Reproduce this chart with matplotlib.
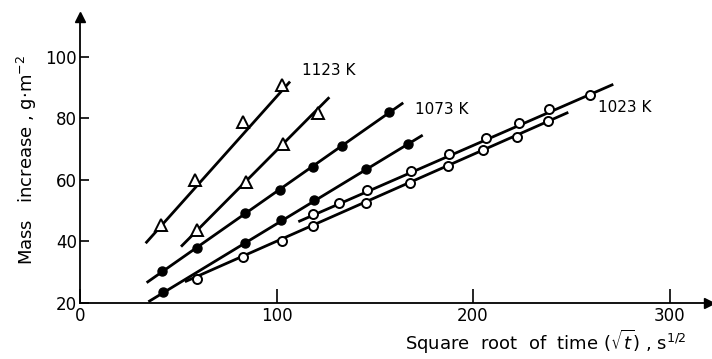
import matplotlib
matplotlib.use("Agg")
import matplotlib.pyplot as plt

# ---- data ----
tri1_x = [41.2, 58.5, 83.0, 102.6]
tri1_y = [45.3, 59.9, 78.9, 90.8]
tri1_line_x = [33.4, 106.9]
tri1_line_y = [39.4, 91.9]

tri2_x = [59.7, 84.5, 103.5, 121.3]
tri2_y = [43.7, 59.4, 71.6, 81.6]
tri2_line_x = [51.4, 126.9]
tri2_line_y = [38.3, 86.8]

fil1_x = [41.9, 59.7, 84.0, 101.8, 118.4, 133.2, 157.4]
fil1_y = [30.5, 37.8, 49.1, 56.7, 64.3, 71.1, 82.1]
fil1_line_x = [33.9, 164.5]
fil1_line_y = [26.6, 85.0]

fil2_x = [42.4, 84.0, 102.3, 119.2, 145.5, 167.1]
fil2_y = [23.5, 39.6, 46.9, 53.4, 63.4, 71.6]
fil2_line_x = [34.8, 174.4]
fil2_line_y = [20.4, 74.5]

opn1_x = [59.7, 83.1, 102.6, 118.7, 145.5, 167.9, 187.4, 204.9, 222.2, 238.3]
opn1_y = [27.7, 34.8, 40.2, 45.0, 52.6, 58.9, 64.6, 69.7, 74.0, 79.1]
opn1_line_x = [53.4, 248.5]
opn1_line_y = [26.9, 81.9]

opn2_x = [118.7, 132.0, 145.9, 168.4, 188.0, 206.6, 223.6, 238.7, 259.5]
opn2_y = [48.8, 52.6, 56.7, 63.0, 68.3, 73.5, 78.5, 83.0, 87.5]
opn2_line_x = [111.1, 271.4]
opn2_line_y = [46.4, 91.0]

labels = ["1123 K", "1073 K", "1023 K"]
label_x = [113, 170.5, 263.5]
label_y = [95.5, 82.7, 83.6]

x_ticks = [0, 100, 200, 300]
y_ticks = [20, 40, 60, 80, 100]

# ---- figure ----
W, H = 712, 359
fig = plt.figure(figsize=(W / 100, H / 100), dpi=100)
x0_px, y0_px = 80, 303
xmax, ymax = 320, 113
px_per_x = 1.965
px_per_y = 3.08
ax = fig.add_axes([x0_px / W, (H - y0_px) / H,
                   xmax * px_per_x / W, (ymax - 20) * px_per_y / H])
ax.set_xlim(0, xmax)
ax.set_ylim(20, ymax)

lw = 2.0
for lx, ly in [(tri1_line_x, tri1_line_y), (tri2_line_x, tri2_line_y),
               (fil1_line_x, fil1_line_y), (fil2_line_x, fil2_line_y),
               (opn1_line_x, opn1_line_y), (opn2_line_x, opn2_line_y)]:
    ax.plot(lx, ly, color="black", lw=lw, solid_capstyle="butt", zorder=2)

for xs, ys in [(tri1_x, tri1_y), (tri2_x, tri2_y)]:
    ax.plot(xs, ys, ls="none", marker="^", ms=8, mfc="white", mec="black",
            mew=1.4, zorder=3)
for xs, ys in [(fil1_x, fil1_y), (fil2_x, fil2_y)]:
    ax.plot(xs, ys, ls="none", marker="o", ms=6.5, mfc="black", mec="black",
            mew=1.0, zorder=3)
for xs, ys in [(opn1_x, opn1_y), (opn2_x, opn2_y)]:
    ax.plot(xs, ys, ls="none", marker="o", ms=6.5, mfc="white", mec="black",
            mew=1.4, zorder=3)

for t, x, y in zip(labels, label_x, label_y):
    ax.text(x, y, t, fontsize=11, ha="left", va="center")

# axes styling
for s in ["top", "right"]:
    ax.spines[s].set_visible(False)
for s in ["left", "bottom"]:
    ax.spines[s].set_linewidth(1.3)
ax.set_xticks(x_ticks)
ax.set_xticklabels([str(v) for v in x_ticks])
ax.set_yticks(y_ticks)
ax.set_yticklabels([str(v) for v in y_ticks])
ax.tick_params(axis="x", direction="in", length=10, width=1.2, labelsize=12, pad=3)
ax.tick_params(axis="y", direction="in", length=6.5, width=1.2, labelsize=12, pad=2)

# arrow heads
ax.plot([0], [ymax], marker="^", ms=7, color="black", clip_on=False, zorder=5)
ax.plot([xmax], [20], marker=">", ms=7, color="black", clip_on=False, zorder=5)

fig.text(27 / W, 1 - 160 / H, "Mass   increase , g$\\cdot$m$^{-2}$", rotation=90,
         fontsize=13, ha="center", va="center")
fig.text(405 / W, 1 - 342 / H, "Square  root  of  time ($\\sqrt{t}$) , s$^{1/2}$",
         fontsize=13, ha="left", va="center")

fig.savefig("out.png", dpi=100)
